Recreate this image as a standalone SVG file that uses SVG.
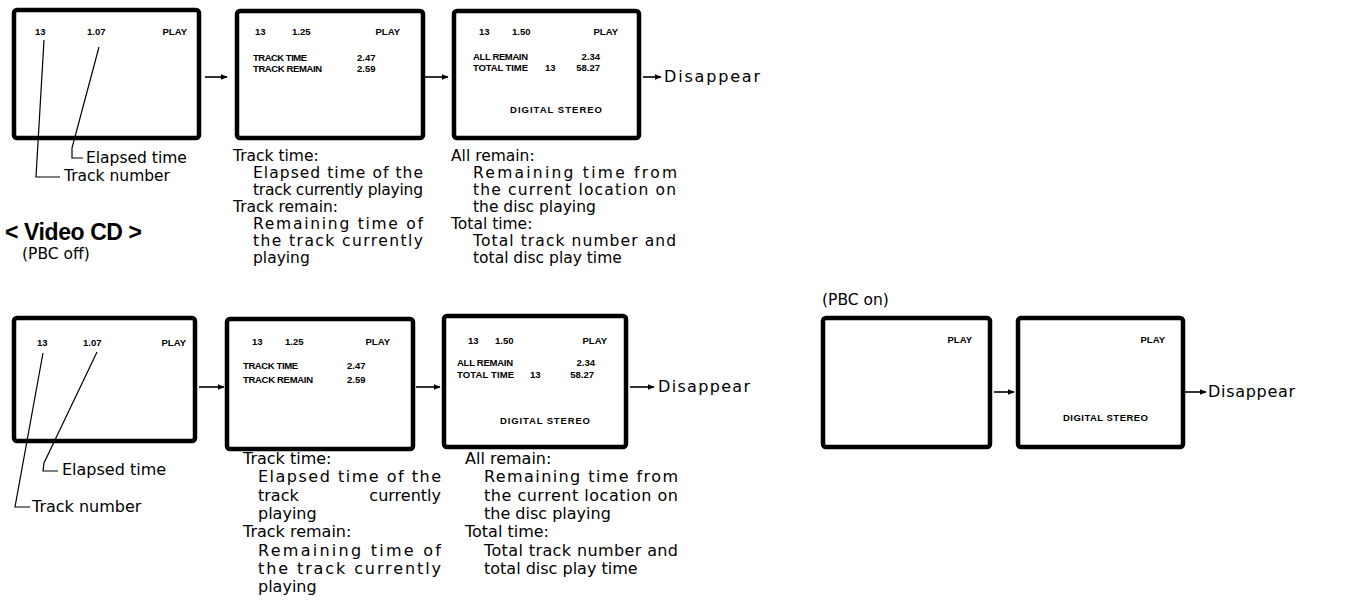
<svg xmlns="http://www.w3.org/2000/svg" width="1362" height="614" viewBox="0 0 1362 614">
<defs>
<marker id="ah" viewBox="0 0 10 10" refX="9" refY="5" markerWidth="7" markerHeight="7" markerUnits="userSpaceOnUse" orient="auto">
<path d="M0,1 L10,5 L0,9 Z" fill="#000"/>
</marker>
<style>
.scr{fill:#fff;stroke:#000;stroke-width:4.5;stroke-linejoin:round}
.st{font-family:"Liberation Sans",Arial,sans-serif;font-weight:bold;font-size:9.5px;fill:#000}
.lb{font-family:"DejaVu Sans","Liberation Sans",sans-serif;font-size:15.5px;fill:#000}
.lb2{font-family:"DejaVu Sans","Liberation Sans",sans-serif;font-size:16px;fill:#000}
.hd{font-family:"Liberation Sans",Arial,sans-serif;font-weight:bold;font-size:23px;fill:#000}
.ar{stroke:#000;stroke-width:1.6;fill:none}
.ld{stroke:#000;stroke-width:1.2;fill:none}
</style>
</defs>
<rect width="1362" height="614" fill="#fff"/>

<!-- Audio CD row -->
<g id="top-screen-1">
<rect class="scr" x="14" y="10" width="185" height="128" rx="3"/>
<text class="st" x="35" y="35">13</text>
<text class="st" x="87" y="35">1.07</text>
<text class="st" x="187" y="35" text-anchor="end">PLAY</text>
</g>
<g id="top-screen-2">
<rect class="scr" x="237" y="11" width="186" height="127" rx="3"/>
<text class="st" x="255" y="35">13</text>
<text class="st" x="292" y="35">1.25</text>
<text class="st" x="400" y="35" text-anchor="end">PLAY</text>
<text class="st" x="253" y="61" textLength="54">TRACK TIME</text>
<text class="st" x="357" y="61">2.47</text>
<text class="st" x="253" y="72" textLength="69">TRACK REMAIN</text>
<text class="st" x="357" y="72">2.59</text>
</g>
<g id="top-screen-3">
<rect class="scr" x="454" y="11" width="185" height="127" rx="3"/>
<text class="st" x="479" y="35">13</text>
<text class="st" x="512" y="35">1.50</text>
<text class="st" x="618" y="35" text-anchor="end">PLAY</text>
<text class="st" x="473" y="60" textLength="55">ALL REMAIN</text>
<text class="st" x="600" y="60" text-anchor="end">2.34</text>
<text class="st" x="473" y="71" textLength="55">TOTAL TIME</text>
<text class="st" x="545" y="71">13</text>
<text class="st" x="600" y="71" text-anchor="end">58.27</text>
<text class="st" x="510" y="113" textLength="92">DIGITAL STEREO</text>
</g>
<g id="top-labels">
<text class="lb" x="86" y="163">Elapsed time</text>
<text class="lb" x="64" y="181">Track number</text>
<text class="lb" x="233" y="161">Track time:</text>
<text class="lb" x="253" y="178" textLength="170">Elapsed time of the</text>
<text class="lb" x="253" y="195" textLength="170">track currently playing</text>
<text class="lb" x="233" y="212">Track remain:</text>
<text class="lb" x="253" y="229" textLength="170">Remaining time of</text>
<text class="lb" x="253" y="246" textLength="170">the track currently</text>
<text class="lb" x="253" y="263">playing</text>
<text class="lb" x="451" y="161">All remain:</text>
<text class="lb" x="473" y="178" textLength="204">Remaining time from</text>
<text class="lb" x="473" y="195" textLength="203">the current location on</text>
<text class="lb" x="473" y="212">the disc playing</text>
<text class="lb" x="451" y="229">Total time:</text>
<text class="lb" x="473" y="246" textLength="203">Total track number and</text>
<text class="lb" x="473" y="263">total disc play time</text>
<text class="lb2" x="664" y="82" textLength="96">Disappear</text>
</g>

<!-- Video CD heading -->
<text class="hd" x="5" y="240" textLength="137">&lt; Video CD &gt;</text>
<text class="lb" x="22" y="259">(PBC off)</text>
<text class="lb" x="822" y="305">(PBC on)</text>

<!-- PBC off row -->
<g id="bot-screen-1">
<rect class="scr" x="14" y="318" width="181" height="123" rx="3"/>
<text class="st" x="37" y="346">13</text>
<text class="st" x="83" y="346">1.07</text>
<text class="st" x="186" y="346" text-anchor="end">PLAY</text>
</g>
<g id="bot-screen-2">
<rect class="scr" x="227" y="319" width="186" height="130" rx="3"/>
<text class="st" x="252" y="345">13</text>
<text class="st" x="285" y="345">1.25</text>
<text class="st" x="390" y="345" text-anchor="end">PLAY</text>
<text class="st" x="243" y="369" textLength="55">TRACK TIME</text>
<text class="st" x="347" y="369">2.47</text>
<text class="st" x="243" y="383" textLength="70">TRACK REMAIN</text>
<text class="st" x="347" y="383">2.59</text>
</g>
<g id="bot-screen-3">
<rect class="scr" x="444" y="316" width="182" height="131" rx="3"/>
<text class="st" x="468" y="344">13</text>
<text class="st" x="495" y="344">1.50</text>
<text class="st" x="607" y="344" text-anchor="end">PLAY</text>
<text class="st" x="457" y="366" textLength="56">ALL REMAIN</text>
<text class="st" x="595" y="366" text-anchor="end">2.34</text>
<text class="st" x="457" y="378" textLength="57">TOTAL TIME</text>
<text class="st" x="530" y="378">13</text>
<text class="st" x="594" y="378" text-anchor="end">58.27</text>
<text class="st" x="500" y="424" textLength="90">DIGITAL STEREO</text>
</g>
<g id="bot-labels">
<text class="lb2" x="62" y="475">Elapsed time</text>
<text class="lb2" x="32" y="512">Track number</text>
<text class="lb2" x="243" y="464">Track time:</text>
<text class="lb2" x="258" y="482" textLength="183">Elapsed time of the</text>
<text class="lb2" y="501"><tspan x="258">track</tspan><tspan x="441" text-anchor="end">currently</tspan></text>
<text class="lb2" x="258" y="519">playing</text>
<text class="lb2" x="243" y="537">Track remain:</text>
<text class="lb2" x="258" y="556" textLength="183">Remaining time of</text>
<text class="lb2" x="258" y="574" textLength="183">the track currently</text>
<text class="lb2" x="258" y="592">playing</text>
<text class="lb2" x="465" y="464">All remain:</text>
<text class="lb2" x="484" y="482" textLength="194">Remaining time from</text>
<text class="lb2" x="484" y="501" textLength="194">the current location on</text>
<text class="lb2" x="484" y="519">the disc playing</text>
<text class="lb2" x="465" y="537">Total time:</text>
<text class="lb2" x="484" y="556" textLength="194">Total track number and</text>
<text class="lb2" x="484" y="574">total disc play time</text>
<text class="lb2" x="658" y="392" textLength="92">Disappear</text>
</g>

<!-- PBC on row -->
<g id="pbc-screen-1">
<rect class="scr" x="823" y="318" width="167" height="129" rx="3"/>
<text class="st" x="972" y="343" text-anchor="end">PLAY</text>
</g>
<g id="pbc-screen-2">
<rect class="scr" x="1018" y="318" width="165" height="129" rx="3"/>
<text class="st" x="1165" y="343" text-anchor="end">PLAY</text>
<text class="st" x="1063" y="421" textLength="85">DIGITAL STEREO</text>
</g>
<text class="lb2" x="1208" y="397" textLength="87">Disappear</text>

<g id="connectors">
<line class="ar" x1="205" y1="77" x2="227" y2="77" marker-end="url(#ah)"/>
<line class="ar" x1="425" y1="77" x2="448" y2="77" marker-end="url(#ah)"/>
<line class="ar" x1="643" y1="77" x2="661" y2="77" marker-end="url(#ah)"/>
<line class="ar" x1="199" y1="387" x2="224" y2="387" marker-end="url(#ah)"/>
<line class="ar" x1="416" y1="387" x2="440" y2="387" marker-end="url(#ah)"/>
<line class="ar" x1="630" y1="387" x2="654" y2="387" marker-end="url(#ah)"/>
<line class="ar" x1="994" y1="392" x2="1014" y2="392" marker-end="url(#ah)"/>
<line class="ar" x1="1185" y1="392" x2="1206" y2="392" marker-end="url(#ah)"/>
<polyline class="ld" points="44,40 36,177 60,177"/>
<polyline class="ld" points="99,47 72,148 72,158 83,158"/>
<polyline class="ld" points="43,353 15,507 30,507"/>
<polyline class="ld" points="97,352 44,463 43,471 58,471"/>
</g>
</svg>
